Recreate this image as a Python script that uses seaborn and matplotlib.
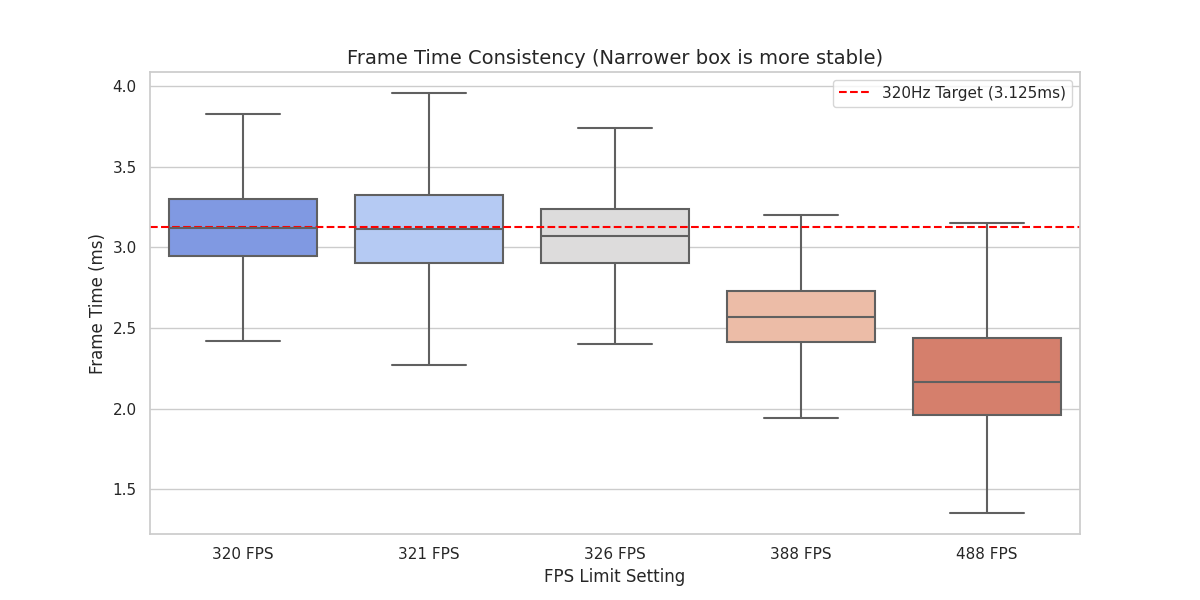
import numpy as np
import pandas as pd
import matplotlib
matplotlib.use("Agg")
import matplotlib.pyplot as plt
import seaborn as sns

categories = ["320 FPS", "321 FPS", "326 FPS", "388 FPS", "488 FPS"]
# five-number summaries: min, q1, median, q3, max
fps320 = [2.42, 2.947, 3.123, 3.299, 3.828]
fps321 = [2.271, 2.904, 3.113, 3.324, 3.957]
fps326 = [2.401, 2.904, 3.071, 3.239, 3.741]
fps388 = [1.942, 2.412, 2.569, 2.730, 3.202]
fps488 = [1.353, 1.959, 2.166, 2.437, 3.150]
target_ms = 3.125

series = [fps320, fps321, fps326, fps388, fps488]
df = pd.DataFrame({
    "FPS": np.repeat(categories, [len(s) for s in series]),
    "Frame Time": np.concatenate(series),
})

sns.set_theme(style="whitegrid")
fig, ax = plt.subplots(figsize=(12, 6), dpi=100)
sns.boxplot(data=df, x="FPS", y="Frame Time", hue="FPS", palette="coolwarm",
            legend=False, whis=(0, 100), order=categories, linewidth=1.5, ax=ax)
ax.axhline(target_ms, color="red", linestyle="--", linewidth=1.5,
           label="320Hz Target (3.125ms)")
ax.set_title("Frame Time Consistency (Narrower box is more stable)", fontsize=14)
ax.set_xlabel("FPS Limit Setting", fontsize=12)
ax.set_ylabel("Frame Time (ms)", fontsize=12)
ax.legend(loc="upper right")
fig.savefig("out.png", dpi=100)
